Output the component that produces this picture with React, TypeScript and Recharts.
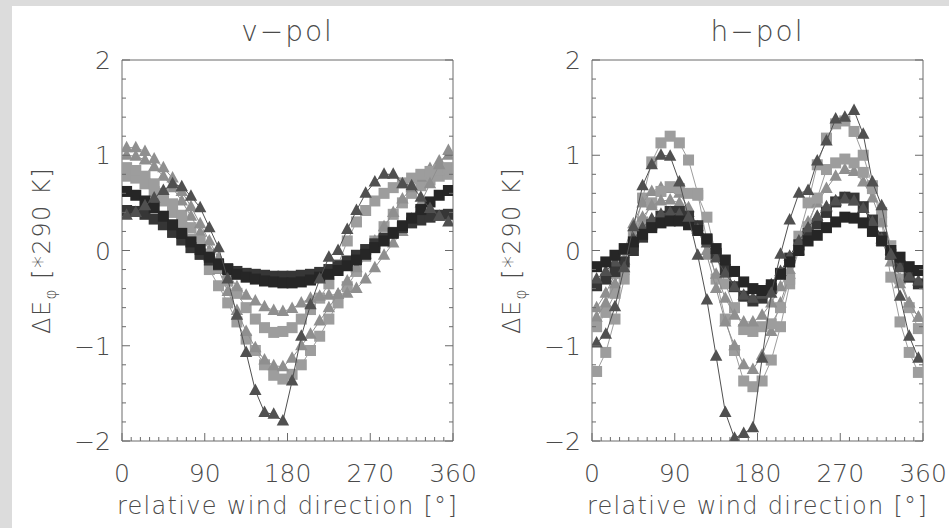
import React from 'react';
import { ScatterChart, Scatter, XAxis, YAxis } from 'recharts';

// wind direction bins (deg)
const DEG = [5, 15, 25, 35, 45, 55, 65, 75, 85, 95, 105, 115, 125, 135, 145, 155, 165, 175,
  185, 195, 205, 215, 225, 235, 245, 255, 265, 275, 285, 295, 305, 315, 325, 335, 345, 355];

const X_TICKS = [0, 10, 20, 30, 40, 50, 60, 70, 80, 90, 100, 110, 120, 130, 140, 150, 160, 170, 180,
  190, 200, 210, 220, 230, 240, 250, 260, 270, 280, 290, 300, 310, 320, 330, 340, 350, 360];
const Y_TICKS = [-2, -1.8, -1.6, -1.4, -1.2, -1, -0.8, -0.6, -0.4, -0.2, 0, 0.2, 0.4, 0.6, 0.8, 1,
  1.2, 1.4, 1.6, 1.8, 2];

// v-pol
const vSq1 = [0.62, 0.58, 0.52, 0.45, 0.36, 0.27, 0.18, 0.09, 0.01, -0.07, -0.14, -0.2, -0.25, -0.28, -0.3, -0.32, -0.33, -0.34,
  -0.34, -0.33, -0.31, -0.28, -0.25, -0.21, -0.16, -0.1, -0.04, 0.03, 0.1, 0.18, 0.26, 0.34, 0.43, 0.51, 0.58, 0.63];
const vSq2 = [0.42, 0.41, 0.38, 0.33, 0.27, 0.19, 0.11, 0.03, -0.04, -0.1, -0.15, -0.19, -0.22, -0.24, -0.25, -0.26, -0.27, -0.27,
  -0.27, -0.26, -0.25, -0.23, -0.2, -0.16, -0.11, -0.05, 0.01, 0.07, 0.13, 0.19, 0.24, 0.29, 0.32, 0.35, 0.37, 0.38];
const vTri = [0.37, 0.4, 0.47, 0.55, 0.63, 0.7, 0.67, 0.57, 0.45, 0.24, 0.03, -0.3, -0.68, -1.07, -1.47, -1.7, -1.72, -1.79,
  -1.37, -0.9, -0.57, -0.3, -0.07, 0.0, 0.22, 0.42, 0.6, 0.72, 0.8, 0.8, 0.7, 0.68, 0.56, 0.44, 0.36, 0.3];
const vLSq1 = [0.87, 0.84, 0.78, 0.7, 0.6, 0.49, 0.37, 0.24, 0.1, -0.04, -0.18, -0.32, -0.45, -0.6, -0.72, -0.81, -0.86, -0.85,
  -0.81, -0.72, -0.62, -0.5, -0.35, -0.15, 0.1, 0.3, 0.42, 0.52, 0.6, 0.66, 0.71, 0.76, 0.8, 0.83, 0.85, 0.87];
const vLSq2 = [0.78, 0.76, 0.7, 0.62, 0.52, 0.4, 0.27, 0.12, -0.04, -0.2, -0.37, -0.55, -0.75, -0.93, -1.05, -1.2, -1.31, -1.35,
  -1.3, -1.2, -1.05, -0.9, -0.72, -0.55, -0.38, -0.22, -0.06, 0.1, 0.25, 0.38, 0.5, 0.6, 0.68, 0.74, 0.78, 0.8];
const vLTri1 = [1.08, 1.08, 1.04, 0.96, 0.87, 0.76, 0.62, 0.46, 0.28, 0.1, -0.08, -0.24, -0.38, -0.47, -0.53, -0.59, -0.63, -0.64,
  -0.61, -0.55, -0.5, -0.48, -0.47, -0.46, -0.45, -0.4, -0.3, -0.18, -0.05, 0.08, 0.2, 0.33, 0.5, 0.7, 0.9, 1.05];
const vLTri2 = [1.0, 0.99, 0.95, 0.88, 0.78, 0.66, 0.52, 0.36, 0.19, 0.0, -0.2, -0.43, -0.63, -0.85, -1.02, -1.15, -1.21, -1.22,
  -1.13, -1.0, -0.88, -0.74, -0.6, -0.46, -0.32, -0.18, -0.04, 0.1, 0.25, 0.4, 0.54, 0.66, 0.77, 0.86, 0.94, 1.0];

// h-pol
const hSq1 = [-0.17, -0.12, -0.05, 0.02, 0.09, 0.17, 0.24, 0.29, 0.31, 0.31, 0.27, 0.21, 0.12, 0.02, -0.1, -0.22, -0.33, -0.4,
  -0.42, -0.36, -0.25, -0.12, 0.0, 0.1, 0.16, 0.24, 0.3, 0.35, 0.34, 0.29, 0.2, 0.1, 0.0, -0.07, -0.17, -0.21];
const hSq2 = [-0.37, -0.3, -0.22, -0.12, 0.0, 0.14, 0.27, 0.36, 0.41, 0.41, 0.36, 0.26, 0.12, -0.03, -0.2, -0.38, -0.48, -0.53,
  -0.5, -0.4, -0.24, -0.08, 0.06, 0.18, 0.28, 0.4, 0.51, 0.56, 0.55, 0.46, 0.32, 0.14, -0.04, -0.16, -0.28, -0.35];
const hTriS = [-0.3, -0.22, -0.12, 0.0, 0.12, 0.24, 0.33, 0.38, 0.4, 0.38, 0.32, 0.22, 0.08, -0.08, -0.24, -0.38, -0.47, -0.5,
  -0.46, -0.36, -0.22, -0.06, 0.1, 0.24, 0.36, 0.46, 0.52, 0.54, 0.52, 0.44, 0.3, 0.12, -0.05, -0.18, -0.27, -0.32];
const hTri = [-0.97, -0.88, -0.59, -0.18, 0.25, 0.68, 0.9, 1.0, 0.99, 0.72, 0.35, -0.05, -0.52, -1.11, -1.7, -1.97, -1.92, -1.86,
  -1.13, -0.45, -0.04, 0.32, 0.6, 0.63, 0.94, 1.15, 1.38, 1.4, 1.47, 1.22, 0.72, 0.47, -0.04, -0.48, -0.9, -1.13];
const hLSq1 = [-1.27, -1.07, -0.72, -0.3, 0.15, 0.55, 0.93, 1.13, 1.2, 1.13, 0.95, 0.6, 0.1, -0.3, -0.72, -1.05, -1.37, -1.43,
  -1.37, -1.15, -0.8, -0.35, 0.15, 0.5, 0.9, 1.18, 1.33, 1.36, 1.25, 1.0, 0.68, 0.3, -0.28, -0.75, -1.07, -1.28];
const hLSq2 = [-0.8, -0.65, -0.45, -0.2, 0.05, 0.3, 0.5, 0.62, 0.67, 0.65, 0.6, 0.58, 0.35, -0.05, -0.35, -0.6, -0.83, -0.85,
  -0.8, -0.77, -0.6, -0.3, 0.0, 0.25, 0.55, 0.85, 0.92, 0.96, 0.92, 0.82, 0.65, 0.4, 0.05, -0.3, -0.6, -0.82];
const hLTri1 = [-0.6, -0.45, -0.25, 0.0, 0.28, 0.5, 0.62, 0.66, 0.65, 0.6, 0.45, 0.25, -0.05, -0.4, -0.75, -1.0, -1.2, -1.25,
  -1.1, -0.85, -0.55, -0.25, 0.05, 0.3, 0.5, 0.65, 0.78, 0.85, 0.83, 0.72, 0.55, 0.3, 0.0, -0.3, -0.55, -0.7];
const hLTri2 = [-0.7, -0.55, -0.35, -0.1, 0.15, 0.35, 0.47, 0.52, 0.53, 0.5, 0.4, 0.22, 0.0, -0.25, -0.5, -0.68, -0.75, -0.75,
  -0.68, -0.55, -0.38, -0.2, 0.0, 0.18, 0.33, 0.45, 0.52, 0.55, 0.52, 0.44, 0.3, 0.1, -0.12, -0.35, -0.55, -0.7];

const FONT = '"DejaVu Sans", sans-serif';
const TXT = '#4a4a4a';
const AX = '#6a6a6a';

const toPts = (vals: number[]) => DEG.map((d, i) => ({ x: d, y: vals[i] }));

const square = (fill: string) => (p: any) => (
  <rect x={p.cx - 5.5} y={p.cy - 5.5} width={11} height={11} fill={fill} />
);
const triangle = (fill: string) => (p: any) => (
  <polygon points={`${p.cx},${p.cy - 7} ${p.cx + 6.2},${p.cy + 4.5} ${p.cx - 6.2},${p.cy + 4.5}`} fill={fill} />
);

const fmt = (v: number) => (v < 0 ? '\u2212' + Math.abs(v) : String(v));
const isMajorY = (v: number) => Math.abs(v - Math.round(v)) < 1e-6;

const BottomTick = (props: any) => {
  const { x, y, payload } = props;
  const major = payload.value % 90 === 0;
  return (
    <g>
      <line x1={x} x2={x} y1={y} y2={y - (major ? 8 : 4)} stroke={AX} />
      {major && (
        <text x={x} y={y + 41} textAnchor="middle" fontSize={25} fontFamily={FONT} fontWeight={200} fill={TXT}>
          {payload.value}
        </text>
      )}
    </g>
  );
};

const TopTick = (props: any) => {
  const { x, y, payload } = props;
  const major = payload.value % 90 === 0;
  return <line x1={x} x2={x} y1={y} y2={y + (major ? 8 : 4)} stroke={AX} />;
};

const LeftTick = (props: any) => {
  const { x, y, payload } = props;
  const major = isMajorY(payload.value);
  return (
    <g>
      <line x1={x} x2={x + (major ? 8 : 4)} y1={y} y2={y} stroke={AX} />
      {major && (
        <text x={x - 11} y={y} dy="0.36em" textAnchor="end" fontSize={25} fontFamily={FONT} fontWeight={200} fill={TXT}>
          {fmt(Math.round(payload.value))}
        </text>
      )}
    </g>
  );
};

const RightTick = (props: any) => {
  const { x, y, payload } = props;
  const major = isMajorY(payload.value);
  return <line x1={x} x2={x - (major ? 8 : 4)} y1={y} y2={y} stroke={AX} />;
};

interface PanelProps {
  title: string;
  width: number;
  series: { data: number[]; color: string; kind: 'sq' | 'tri' }[];
}

// plot box is always 331 px wide starting 122 px from the panel's left edge
const Panel: React.FC<PanelProps> = ({ title, width, series }) => (
  <ScatterChart width={width} height={528} margin={{ top: 59, right: width - 454, bottom: 86, left: 121 }}>
    <XAxis
      xAxisId="b" type="number" dataKey="x" domain={[0, 360]} ticks={X_TICKS} interval={0}
      height={1} tickSize={0} tickMargin={0} tickLine={false} tick={<BottomTick />}
      axisLine={{ stroke: AX }} allowDataOverflow
      label={{
        content: (p: any) => (
          <text x={p.viewBox.x + p.viewBox.width / 2} y={p.viewBox.y + 73} textAnchor="middle"
            fontSize={24} fontFamily={FONT} fontWeight={200} fill={TXT} letterSpacing={1.3}>
            relative wind direction [°]
          </text>
        ),
      }}
    />
    <XAxis
      xAxisId="t" orientation="top" type="number" domain={[0, 360]} ticks={X_TICKS} interval={0}
      height={1} tickSize={0} tickMargin={0} tickLine={false} tick={<TopTick />}
      axisLine={{ stroke: AX }} allowDataOverflow
      label={{
        content: (p: any) => (
          <text x={p.viewBox.x + p.viewBox.width / 2} y={p.viewBox.y - 18} textAnchor="middle"
            fontSize={28} fontFamily={FONT} fontWeight={200} fill={TXT} letterSpacing={2}>
            {title}
          </text>
        ),
      }}
    />
    <YAxis
      yAxisId="l" type="number" dataKey="y" domain={[-2, 2]} ticks={Y_TICKS} interval={0}
      width={1} tickSize={0} tickMargin={0} tickLine={false} tick={<LeftTick />}
      axisLine={{ stroke: AX }} allowDataOverflow
      label={{
        content: (p: any) => {
          const cx = p.viewBox.x - 71;
          const cy = p.viewBox.y + p.viewBox.height / 2;
          return (
            <text x={cx} y={cy} transform={`rotate(-90 ${cx} ${cy})`} textAnchor="middle"
              fontSize={24} fontFamily={FONT} fontWeight={200} fill={TXT} letterSpacing={1.5}>
              ΔE<tspan fontSize={15} dy={6}>φ</tspan><tspan dy={-6}> [*290 K]</tspan>
            </text>
          );
        },
      }}
    />
    <YAxis
      yAxisId="r" orientation="right" type="number" domain={[-2, 2]} ticks={Y_TICKS} interval={0}
      width={1} tickSize={0} tickMargin={0} tickLine={false} tick={<RightTick />}
      axisLine={{ stroke: AX }} allowDataOverflow
    />
    {series.map((s, i) => (
      <Scatter
        key={i}
        xAxisId="b"
        yAxisId="l"
        data={toPts(s.data)}
        fill={s.color}
        line={{ stroke: s.color, strokeWidth: 1 }}
        lineType="joint"
        shape={s.kind === 'sq' ? square(s.color) : triangle(s.color)}
        isAnimationActive={false}
      />
    ))}
  </ScatterChart>
);

const DARK_SQ1 = '#262626';
const DARK_SQ2 = '#363636';
const DARK_TRI = '#505050';
const LIGHT_SQ = '#9d9d9d';
const LIGHT_TRI = '#8f8f8f';

const vSeries: PanelProps['series'] = [
  { data: vLSq2, color: LIGHT_SQ, kind: 'sq' },
  { data: vLTri2, color: LIGHT_TRI, kind: 'tri' },
  { data: vLSq1, color: LIGHT_SQ, kind: 'sq' },
  { data: vLTri1, color: LIGHT_TRI, kind: 'tri' },
  { data: vSq2, color: DARK_SQ2, kind: 'sq' },
  { data: vSq1, color: DARK_SQ1, kind: 'sq' },
  { data: vTri, color: DARK_TRI, kind: 'tri' },
];

const hSeries: PanelProps['series'] = [
  { data: hLSq1, color: LIGHT_SQ, kind: 'sq' },
  { data: hLTri1, color: LIGHT_TRI, kind: 'tri' },
  { data: hLSq2, color: LIGHT_SQ, kind: 'sq' },
  { data: hLTri2, color: LIGHT_TRI, kind: 'tri' },
  { data: hSq2, color: DARK_SQ2, kind: 'sq' },
  { data: hTriS, color: DARK_TRI, kind: 'tri' },
  { data: hSq1, color: DARK_SQ1, kind: 'sq' },
  { data: hTri, color: DARK_TRI, kind: 'tri' },
];

export default function App() {
  return (
    <div style={{ position: 'absolute', left: 0, top: 0, width: 949, height: 528, background: '#dcdcdc', overflow: 'hidden' }}>
      <div style={{ position: 'absolute', left: 12, top: 6, right: 0, bottom: 0, background: '#ffffff' }} />
      <div style={{ position: 'absolute', left: 0, top: 0 }}>
        <Panel title={'v\u2212pol'} width={500} series={vSeries} />
      </div>
      <div style={{ position: 'absolute', left: 470, top: 0 }}>
        <Panel title={'h\u2212pol'} width={479} series={hSeries} />
      </div>
    </div>
  );
}
